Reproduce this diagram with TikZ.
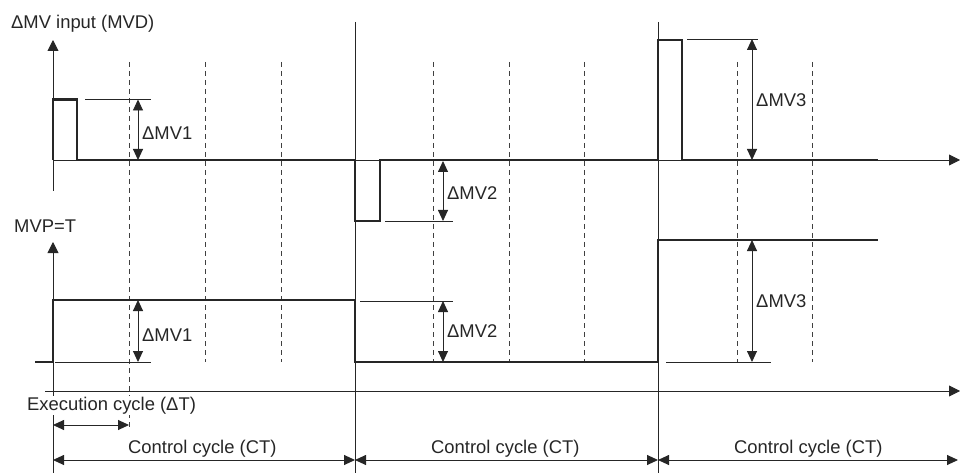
\documentclass[tikz,border=0pt]{standalone}
\usepackage{fontspec}
\setmainfont{Liberation Sans}
\usetikzlibrary{arrows.meta}
\begin{document}
\begin{tikzpicture}[x=1pt,y=-1pt,
  thinline/.style={line width=0.9pt, draw=black!85},
  sig/.style={line width=2.4pt, line join=miter, draw=black!85},
  dashline/.style={line width=0.9pt, dash pattern=on 5pt off 4pt, draw=black!75},
  axis/.style={line width=0.9pt, draw=black!85, -{Triangle[length=11pt,width=11pt]}},
  dim/.style={line width=0.9pt, draw=black!85, {Triangle[length=11pt,width=10pt]}-{Triangle[length=11pt,width=10pt]}},
  lbl/.style={inner sep=0pt, anchor=base west, font=\fontsize{18.4pt}{22pt}\selectfont, text=black!85}
]
\useasboundingbox (0,0) rectangle (969,473);

% named coordinates
\coordinate (o1) at (53,160);
\coordinate (o2) at (53,391);
\coordinate (a1) at (53,40);
\coordinate (a2) at (53,242);
\coordinate (x1) at (960,160);
\coordinate (x2) at (960,391);
\coordinate (m) at (355,460);
\coordinate (r) at (658,460);
\coordinate (l) at (53,460);
\coordinate (e) at (958,460);

% dashed grid
\foreach \x in {205,281,433,509,584,737,812}
  \draw[dashline] (\x,62) -- (\x,362);
\draw[dashline] (129,62) -- (129,430);

% cycle boundaries
\draw[thinline] (355,22) -- (355,473);
\draw[thinline] (658,22) -- (658,473);

% axes
\draw[axis] (53,191) -- (a1);
\draw[axis] (o1) -- (x1);
\draw[axis] (o2) -- (a2);
\draw[axis] (45,391) -- (x2);
\draw[thinline] (o2) -- (53,473);

% reference lines
\draw[thinline] (85,99.5) -- (151,99.5);
\draw[thinline] (385,221) -- (453,221);
\draw[thinline] (687,39) -- (758,39);
\draw[thinline] (55,362) -- (151,362);
\draw[thinline] (360,301) -- (453,301);
\draw[thinline] (666,362) -- (771,362);

% signals
\draw[sig] (53,160) -- (53,99.5) -- (77,99.5) -- (77,160) -- (355,160) -- (355,221) -- (380,221) -- (380,160) -- (658,160) -- (658,40) -- (682,40) -- (682,160) -- (878,160);
\draw[sig] (35,362) -- (53,362) -- (53,300) -- (355,300) -- (355,362) -- (658,362) -- (658,240) -- (878,240);

% dimension arrows
\draw[dim] (138,99.5) -- (138,160);
\draw[dim] (443,161) -- (443,221);
\draw[dim] (752,39) -- (752,160);
\draw[dim] (138,300) -- (138,362);
\draw[dim] (443,301) -- (443,362);
\draw[dim] (752,240) -- (752,362);
\draw[dim] (53,425) -- (129,425);
\draw[dim] (l) -- (m);
\draw[dim] (m) -- (r);
\draw[dim] (r) -- (e);

% labels
\node[lbl] (t1) at (11,29) {ΔMV input (MVD)};
\node[lbl] (t2) at (14,233) {MVP=T};
\node[lbl] (d1) at (142,140) {ΔMV1};
\node[lbl] (d2) at (447,200) {ΔMV2};
\node[lbl] (d3) at (756,107) {ΔMV3};
\node[lbl] (d4) at (142,341) {ΔMV1};
\node[lbl] (d5) at (447,337) {ΔMV2};
\node[lbl] (d6) at (756,307) {ΔMV3};
\node[lbl, fill=white, inner ysep=1pt] (ex) at (27,410) {Execution cycle (ΔT)};
\node[lbl] (c1) at (128,453) {Control cycle (CT)};
\node[lbl] (c2) at (431,453) {Control cycle (CT)};
\node[lbl] (c3) at (734,453) {Control cycle (CT)};
\end{tikzpicture}
\end{document}
